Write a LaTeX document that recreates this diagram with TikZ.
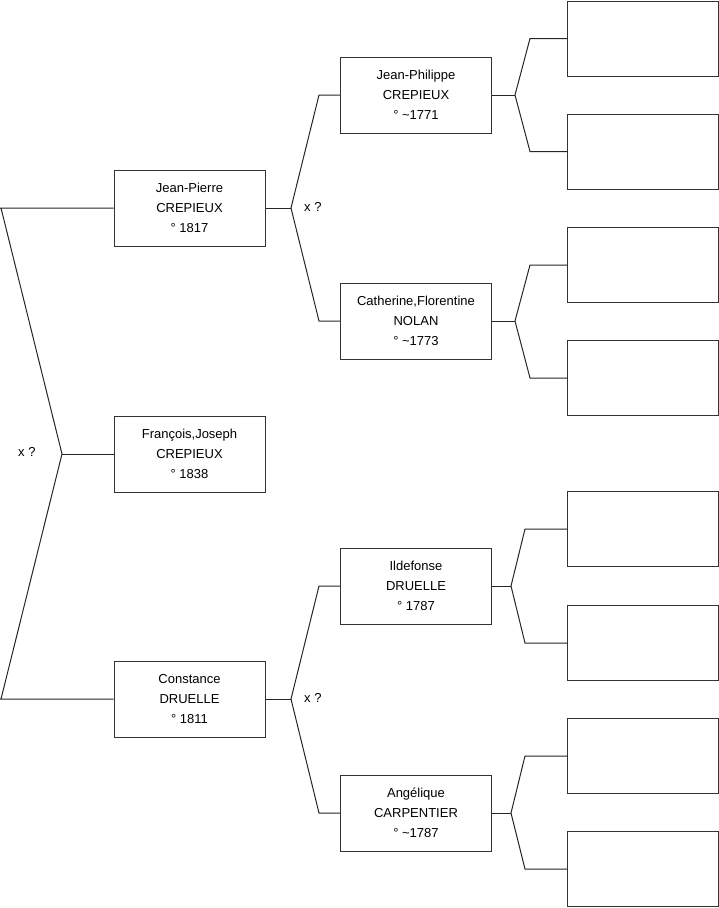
\documentclass[tikz,border=0pt]{standalone}
\usepackage{fontspec}
\setmainfont{Liberation Sans}
\begin{document}
\begin{tikzpicture}[x=1pt,y=-1pt,
  person/.style={draw=black!80, line width=1pt, fill=white, minimum width=151pt, minimum height=76pt, inner sep=0pt, align=center, font=\fontsize{13}{20}\selectfont},
  emptybox/.style={draw=black!80, line width=1pt, fill=white, minimum width=151pt, minimum height=75pt, inner sep=0pt},
  link/.style={draw=black!85, line width=1pt},
  xlabel/.style={font=\fontsize{13}{15}\selectfont, anchor=west, inner sep=0pt}]
\useasboundingbox (0,0) rectangle (719,908);
% generation 1-2
\node[person] (jp) at (189.5,208) {Jean-Pierre\\CREPIEUX\\° 1817};
\node[person] (fj) at (189.5,454) {François,Joseph\\CREPIEUX\\° 1838};
\node[person] (cd) at (189.5,699) {Constance\\DRUELLE\\° 1811};
% generation 3
\node[person] (jph) at (416,95) {Jean-Philippe\\CREPIEUX\\° \textasciitilde 1771};
\node[person] (cf) at (416,321) {Catherine,Florentine\\NOLAN\\° \textasciitilde 1773};
\node[person] (id) at (416,586) {Ildefonse\\DRUELLE\\° 1787};
\node[person] (ac) at (416,813) {Angélique\\CARPENTIER\\° \textasciitilde 1787};
% generation 4 (empty)
\node[emptybox] (e1) at (643,38.5) {};
\node[emptybox] (e2) at (643,151.5) {};
\node[emptybox] (e3) at (643,265) {};
\node[emptybox] (e4) at (643,378) {};
\node[emptybox] (e5) at (643,529) {};
\node[emptybox] (e6) at (643,643) {};
\node[emptybox] (e7) at (643,756) {};
\node[emptybox] (e8) at (643,869) {};
% coordinates
\coordinate (lt) at (1,208);
\coordinate (lj) at (62,454);
\coordinate (lb) at (1,699);
\coordinate (j1) at (291,208);
\coordinate (c1a) at (319,95);
\coordinate (c1b) at (319,321);
\coordinate (j2) at (291,699);
\coordinate (c2a) at (319,586);
\coordinate (c2b) at (319,813);
\coordinate (j3) at (515,95);
\coordinate (c3a) at (530,38.5);
\coordinate (c3b) at (530,151.5);
\coordinate (j4) at (515,321);
\coordinate (c4a) at (530,265);
\coordinate (c4b) at (530,378);
\coordinate (j5) at (511,586);
\coordinate (c5a) at (525,529);
\coordinate (c5b) at (525,643);
\coordinate (j6) at (511,813);
\coordinate (c6a) at (525,756);
\coordinate (c6b) at (525,869);
% connectors
\draw[link] (jp.west) -- (0,208) (lt) -- (lj) -- (lb) (0,699) -- (cd.west);
\draw[link] (lj) -- (fj.west);
\draw[link] (jp.east) -- (j1);
\draw[link] (jph.west) -- (c1a) -- (j1) -- (c1b) -- (cf.west);
\draw[link] (cd.east) -- (j2);
\draw[link] (id.west) -- (c2a) -- (j2) -- (c2b) -- (ac.west);
\draw[link] (jph.east) -- (j3);
\draw[link] (e1.west) -- (c3a) -- (j3) -- (c3b) -- (e2.west);
\draw[link] (cf.east) -- (j4);
\draw[link] (e3.west) -- (c4a) -- (j4) -- (c4b) -- (e4.west);
\draw[link] (id.east) -- (j5);
\draw[link] (e5.west) -- (c5a) -- (j5) -- (c5b) -- (e6.west);
\draw[link] (ac.east) -- (j6);
\draw[link] (e7.west) -- (c6a) -- (j6) -- (c6b) -- (e8.west);
% labels
\node[xlabel] (m0) at (18,452) {x ?};
\node[xlabel] (m1) at (304,207) {x ?};
\node[xlabel] (m2) at (304,698) {x ?};
\end{tikzpicture}
\end{document}
